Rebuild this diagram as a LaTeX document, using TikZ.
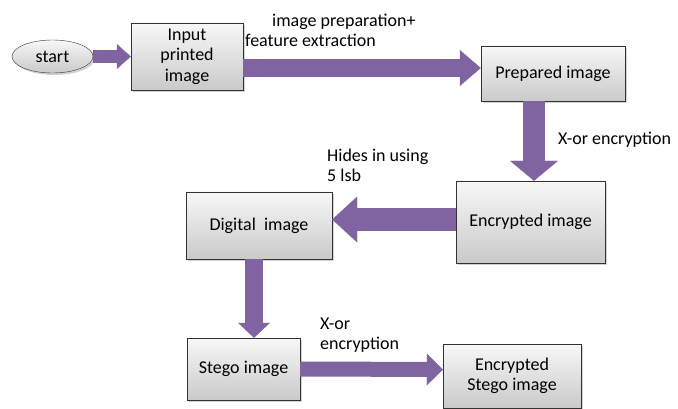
\documentclass[tikz,border=0pt]{standalone}
\usepackage{fontspec}
\setmainfont{Carlito}
\usetikzlibrary{arrows.meta,shadows,shapes.geometric}
\definecolor{arrowpurple}{RGB}{128,100,162}
\begin{document}
\begin{tikzpicture}[x=1pt,y=-1pt,font=\fontsize{18}{20.5}\selectfont,
    bigarrow/.style n args={3}{draw=arrowpurple,line width=#1,
      -{Triangle[length=#2,width=#3,line width=0.4pt]}}]

        \useasboundingbox (0,0) rectangle (678,409);

        \begin{scope}[every node/.style={rectangle,draw=black!80,thin,top color=gray!6,bottom color=gray!42,
            drop shadow={shadow xshift=2pt,shadow yshift=-2pt,opacity=0.35},align=center,inner sep=0pt}]
          \node[ellipse,minimum width=81pt,minimum height=33pt] (start) at (52.5,56.5) {start};
          \node[minimum width=112pt,minimum height=67pt] (input)     at (187,56.5)  {Input\\printed\\image};
          \node[minimum width=144pt,minimum height=55pt] (prepared)  at (553,73.5)  {Prepared image};
          \node[minimum width=149pt,minimum height=82pt] (encrypted) at (530.5,222) {Encrypted image};
          \node[minimum width=146pt,minimum height=67pt] (digital)   at (259,225.5) {Digital~ image};
          \node[minimum width=113pt,minimum height=62pt] (stego)     at (243.5,369) {Stego image};
          \node[minimum width=138pt,minimum height=64pt] (encstego)  at (512,376)   {Encrypted\\Stego image};
        \end{scope}

        \begin{scope}[every node/.style={anchor=west,align=left,inner sep=0pt}]
          \node (prep label)  at (245,30.5)  {\hspace*{27pt}image preparation+\\feature extraction};
          \node (xor label)   at (558,140)   {X-or encryption};
          \node (hide label)  at (327,165.5) {Hides in using\\5 lsb};
          \node (xor2 label)  at (320,335)   {X-or\\encryption};
        \end{scope}

        \path (start) edge[bigarrow={13pt}{14pt}{25pt}] (input);
        \path ([yshift=-11.5pt]input.east) edge[bigarrow={18pt}{21pt}{36pt}] ([yshift=5.5pt]prepared.west);
        \path ([xshift=-19pt]prepared.south) edge[bigarrow={22pt}{20pt}{48pt}] ([xshift=3.5pt]encrypted.north);
        \path ([yshift=2.5pt]encrypted.west) edge[bigarrow={23pt}{25pt}{46pt}] ([yshift=6pt]digital.east);
        \path ([xshift=-5pt]digital.south) edge[bigarrow={18pt}{15pt}{32pt}] ([xshift=10.5pt]stego.north);
        \path (stego.east) edge[bigarrow={15pt}{16pt}{32pt}] ([yshift=6.5pt]encstego.west);

      \end{tikzpicture}
\end{document}
